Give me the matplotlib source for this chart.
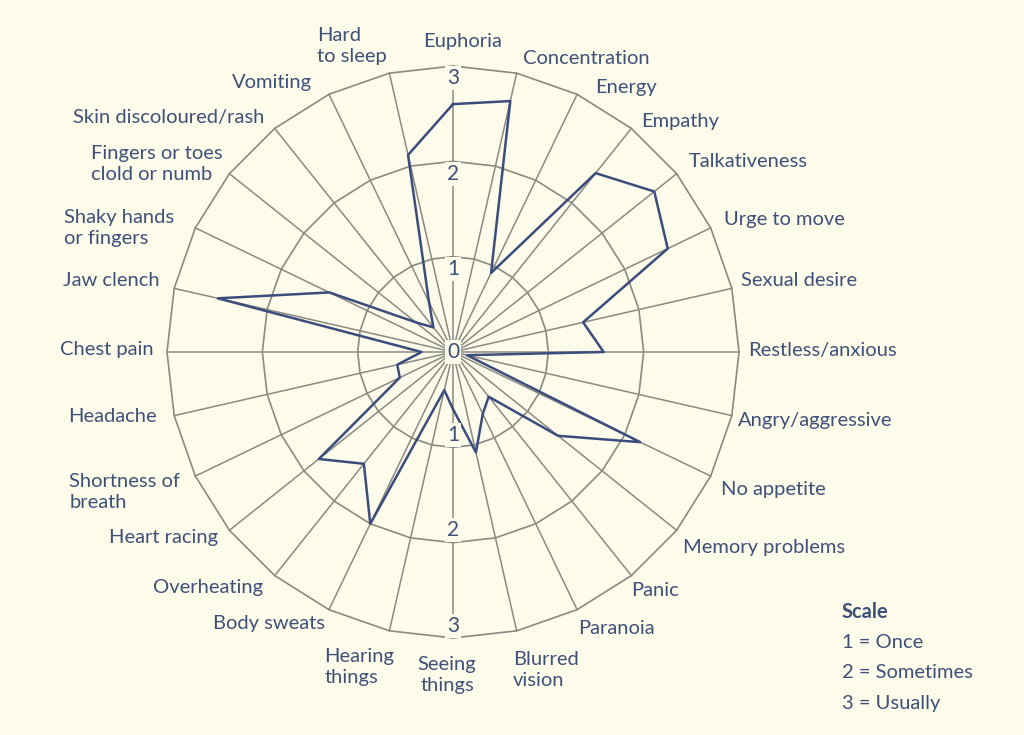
import numpy as np
import matplotlib
matplotlib.use("Agg")
import matplotlib.pyplot as plt

# symptom categories, clockwise from the top
categories = ['Euphoria', 'Concentration', 'Energy', 'Empathy', 'Talkativeness',
              'Urge to move', 'Sexual desire', 'Restless/anxious', 'Angry/aggressive',
              'No appetite', 'Memory problems', 'Panic', 'Paranoia', 'Blurred\nvision',
              'Seeing\nthings', 'Hearing\nthings', 'Body sweats', 'Overheating',
              'Heart racing', 'Shortness of\nbreath', 'Headache', 'Chest pain',
              'Jaw clench', 'Shaky hands\nor fingers', 'Fingers or toes\nclold or numb',
              'Skin discoloured/rash', 'Vomiting', 'Hard\nto sleep']
scores = [2.6, 2.7, 0.92, 2.4, 2.7, 2.5, 1.4, 1.58, 0.15, 2.18, 1.41, 0.6, 0.72, 1.08,
          0.6, 0.41, 2.0, 1.5, 1.8, 0.62, 0.6, 0.33, 2.53, 1.44, 0.5, 0.33, 0.58, 2.12]
rings = [1, 2, 3]
scale_lines = ['1 = Once', '2 = Sometimes', '3 = Usually']

# label placement relative to the spoke end (pixels, y down), alignment
lab_pos = [(10, -25, 'center'), (6, -15, 'left'), (18, -7, 'left'), (10, -7, 'left'),
           (12, -12, 'left'), (13, -8, 'left'), (9, -8, 'left'), (9, -1, 'left'),
           (6, 5, 'left'), (10, 13, 'left'), (6, 17, 'left'), (0, 15, 'left'),
           (1, 19, 'left'), (-4, 39, 'left'), (-6, 37, 'center'), (-65, 36, 'left'),
           (-4, 14, 'right'), (-12, 12, 'right'), (-11, 7, 'right'), (-126, 16, 'left'),
           (-17, 1, 'right'), (-13, -2, 'right'), (-15, -8, 'right'), (-131, 0, 'left'),
           (-138, -10, 'left'), (-10, -11, 'right'), (-17, -12, 'right'), (-72, -27, 'left')]

bg = '#fdfbea'
txt = '#3f5079'
grid = '#8a8a82'
navy = '#3a4d7c'
plt.rcParams['font.family'] = ['Lato', 'DejaVu Sans']

n = len(categories)
theta = np.arange(n) * 2 * np.pi / n
closed = np.append(theta, theta[0])

fig = plt.figure(figsize=(10.24, 7.35), dpi=100, facecolor=bg)
ax = fig.add_axes([0.1631, 0.1320, 0.5586, 0.7782], projection='polar')
ax.set_theta_zero_location('N')
ax.set_theta_direction(-1)
ax.set_ylim(0, 3)
ax.patch.set_visible(False)
ax.spines['polar'].set_visible(False)
ax.grid(False)
ax.set_xticks([])
ax.set_yticks([])

# polygon rings and spokes
for r in rings:
    ax.plot(closed, [r] * (n + 1), color=grid, lw=1.2, clip_on=False, zorder=1)
for t in theta:
    ax.plot([t, t], [0, 3], color=grid, lw=1.1, clip_on=False, zorder=1)

# data polygon
vals = np.append(scores, scores[0])
ax.plot(closed, vals, color=navy, lw=1.8, zorder=3, clip_on=False)

# scale numbers on the vertical axis
box = dict(boxstyle='square,pad=0.1', fc=bg, ec='none')
ax.text(0, 0, '0', ha='center', va='center', fontsize=15, color=txt, bbox=box, zorder=4)
for r in rings:
    for t in (0, np.pi):
        ax.text(t, r - 0.13, str(r), ha='center', va='center', fontsize=15,
                color=txt, bbox=box, zorder=4)

# category labels
for t, lab, (dx, dy, ha) in zip(theta, categories, lab_pos):
    ax.annotate(lab, xy=(t, 3), xytext=(dx, -dy), textcoords='offset pixels',
                ha=ha, va='center', fontsize=14.5, color=txt, linespacing=1.3,
                annotation_clip=False)

# scale key
fig.text(842 / 1024, 1 - 612 / 735, 'Scale', fontsize=14.5, fontweight='bold',
         color=txt, va='center')
for i, s in enumerate(scale_lines):
    fig.text(842 / 1024, 1 - (643 + 30 * i) / 735, s, fontsize=14.5, color=txt,
             va='center')

fig.savefig('out.png', dpi=100, facecolor=bg)
